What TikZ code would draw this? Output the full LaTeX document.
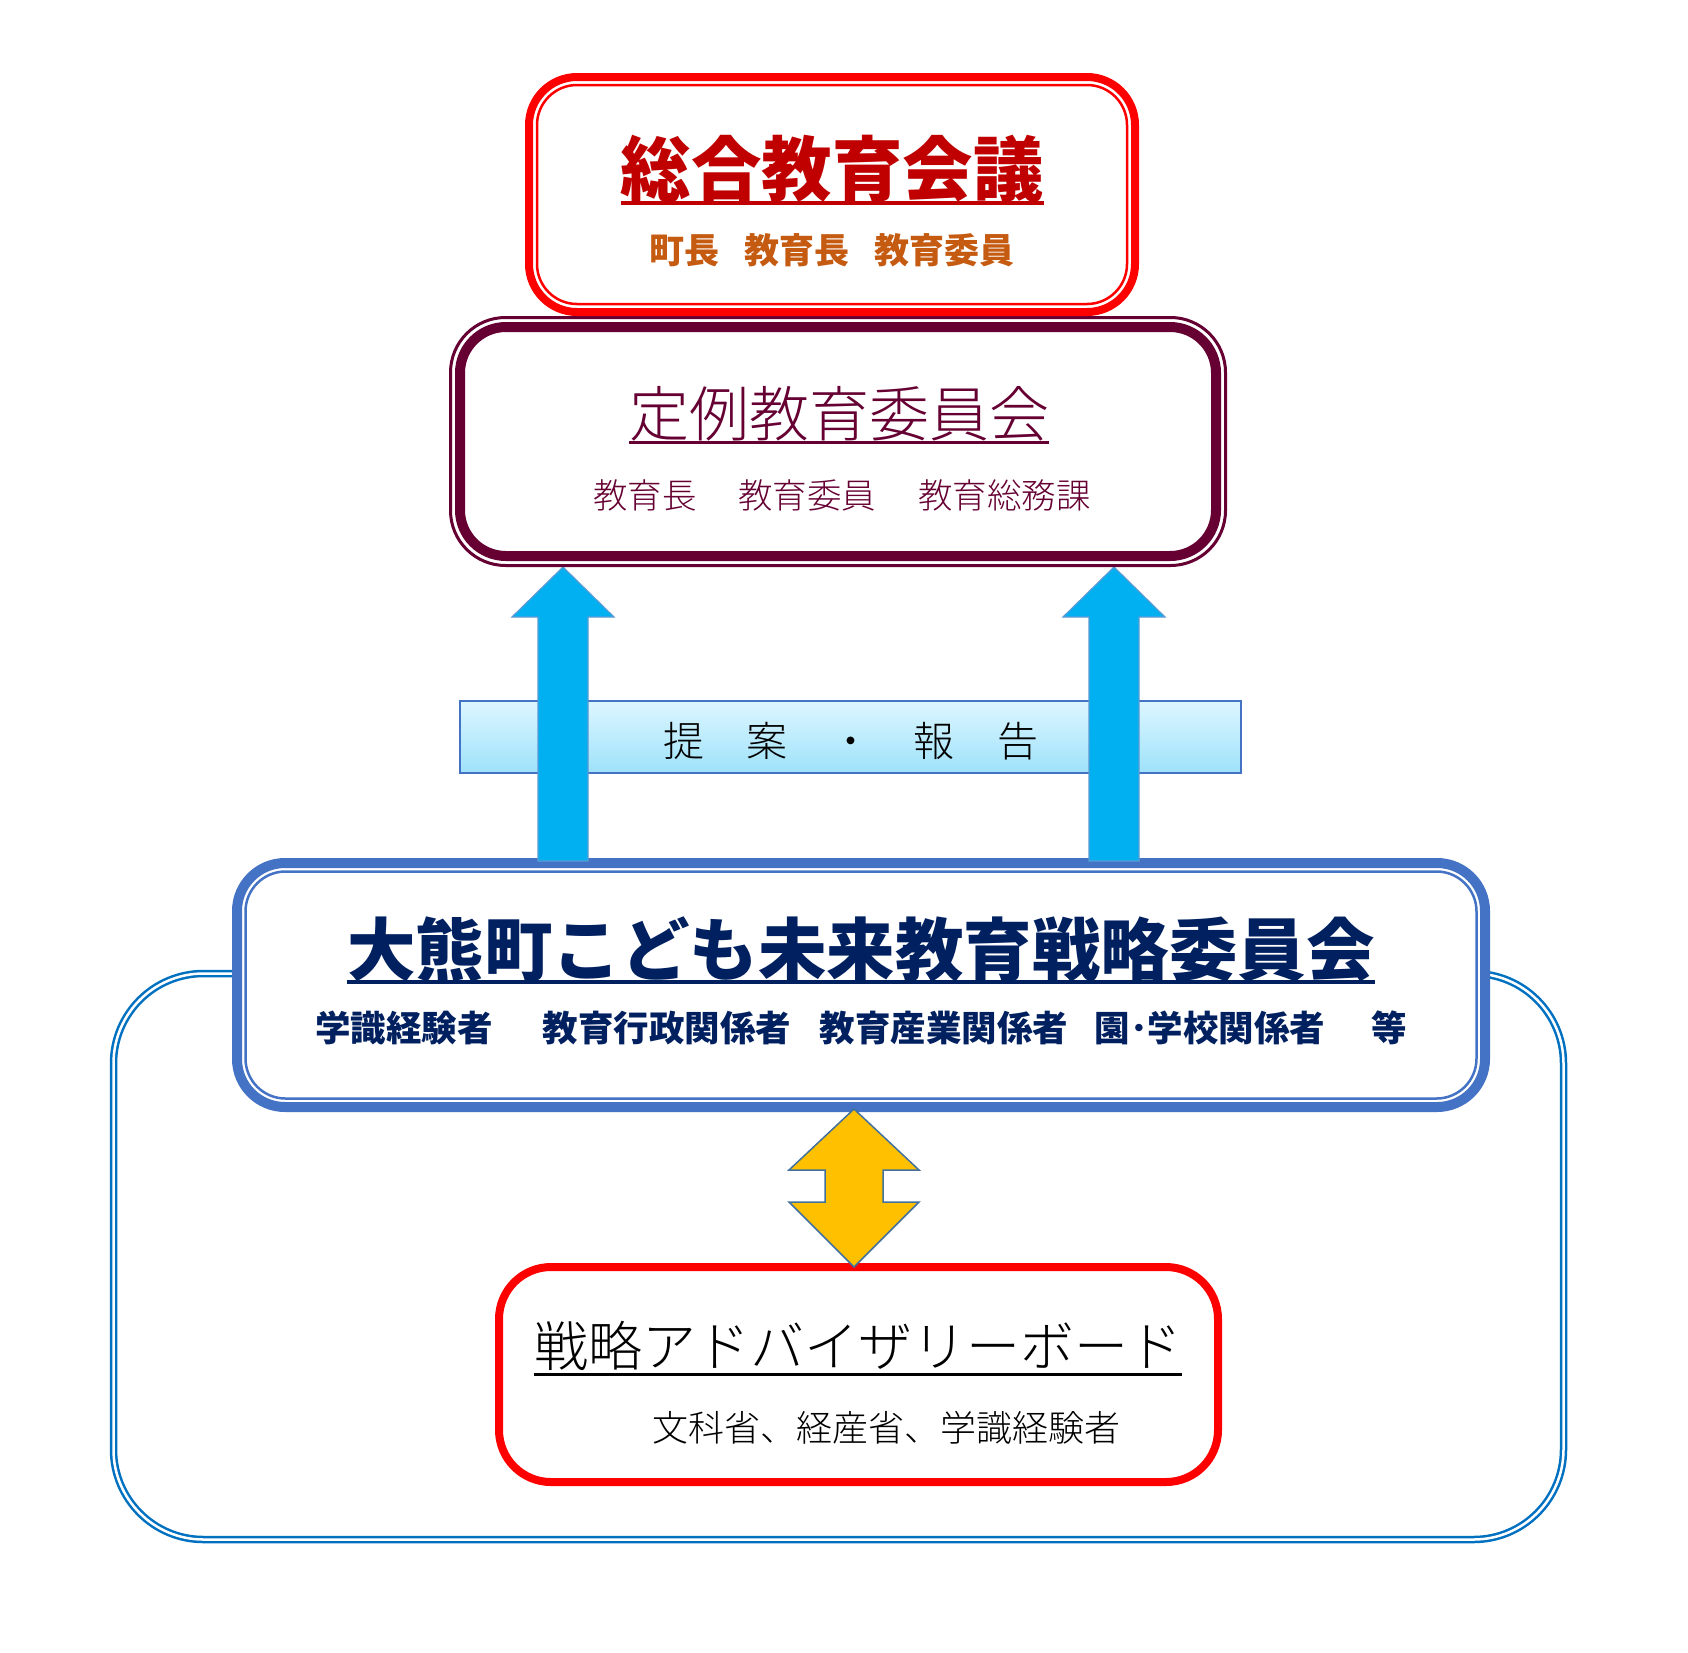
\documentclass[tikz,border=0pt]{standalone}
\usepackage{fontspec}
\setmainfont{Noto Sans CJK JP}
\IfFontExistsTF{Noto Sans CJK JP Light}{\newfontfamily\lightjp{Noto Sans CJK JP Light}}{\newfontfamily\lightjp{Noto Sans CJK JP}}
\definecolor{topred}{HTML}{FF0000}
\definecolor{titlered}{HTML}{C00000}
\definecolor{orangetxt}{HTML}{C55A11}
\definecolor{maroon}{HTML}{660033}
\definecolor{arrowblue}{HTML}{00B0F0}
\definecolor{arrowedge}{HTML}{5B9BD5}
\definecolor{bandtop}{HTML}{DDF6FF}
\definecolor{bandbot}{HTML}{9EE2FA}
\definecolor{bigblue}{HTML}{4472C4}
\definecolor{navy}{HTML}{002060}
\definecolor{frameblue}{HTML}{0070C0}
\definecolor{yellowfill}{HTML}{FFC000}
\definecolor{yellowedge}{HTML}{41719C}
\begin{document}
\begin{tikzpicture}[x=1pt,y=-1pt,
  fs/.style={font={\fontsize{#1pt}{#1pt}\selectfont}},
  fsl/.style={font={\lightjp\fontsize{#1pt}{#1pt}\selectfont}},
  fsb/.style={font={\fontsize{#1pt}{#1pt}\selectfont\bfseries}},
  boxbase/.style={rectangle, inner sep=0pt, outer sep=0pt},
  txt/.style={inner sep=0pt, outer sep=0pt, anchor=base},
  blockup/.style={fill=arrowblue, draw=arrowedge, line width=1.2pt, line join=miter},
  blockud/.style={fill=yellowfill, draw=yellowedge, line width=1.5pt, line join=miter}]
\useasboundingbox (0,0) rectangle (1688,1652);
\fill[white] (0,0) rectangle (1688,1652);

% outer frame
\node[boxbase, draw=frameblue, line width=2.5pt, double=white, double distance=2.5pt,
      rounded corners=90pt, minimum width=1450pt, minimum height=566pt] (frame) at (838.5,1256.5) {};

% strategy committee box
\node[boxbase, fill=white, draw=bigblue, line width=10pt, rounded corners=48pt,
      minimum width=1248pt, minimum height=244pt] (big) at (861,985) {};
\node[boxbase, draw=bigblue, line width=2.5pt, rounded corners=40pt,
      minimum width=1231pt, minimum height=227pt] (bigin) at (big.center) {};

% band
\node[boxbase, draw=bigblue, line width=2.5pt, top color=bandtop, bottom color=bandbot,
      minimum width=781pt, minimum height=72pt] (band) at (850.5,737) {};

% blue up arrows
\draw[blockup] (563,567) -- (614,617) -- (588,617) -- (588,861) -- (538,861) -- (538,617) -- (512,617) -- cycle;
\draw[blockup] (1114,567) -- (1165,617) -- (1139,617) -- (1139,861) -- (1089,861) -- (1089,617) -- (1063,617) -- cycle;

% regular board box
\node[boxbase, fill=white, draw=maroon, line width=3pt, rounded corners=55pt,
      minimum width=775pt, minimum height=248pt] (sec) at (838,441.5) {};
\node[boxbase, draw=maroon, line width=10pt, rounded corners=46pt,
      minimum width=756pt, minimum height=229pt] (secin) at (sec.center) {};

% top box
\node[boxbase, fill=white, draw=topred, line width=8pt, rounded corners=48pt,
      minimum width=606pt, minimum height=235pt] (top) at (832,194.5) {};
\node[boxbase, draw=topred, line width=2.5pt, rounded corners=40pt,
      minimum width=590pt, minimum height=219pt] (topin) at (top.center) {};

% advisory board box
\node[boxbase, fill=white, draw=topred, line width=8pt, rounded corners=52pt,
      minimum width=719pt, minimum height=215pt] (adv) at (858.5,1374.5) {};

% yellow double arrow
\draw[blockud] (854,1109) -- (919,1170) -- (883,1170) -- (883,1202) -- (919,1202) -- (854,1267)
  -- (789,1202) -- (825,1202) -- (825,1170) -- (789,1170) -- cycle;

% texts: top box
\node[txt, fsb=70.5, text=titlered] (t1) at (832,195) {総合教育会議};
\draw[titlered, line width=4pt] ([yshift=-8pt]t1.base west) -- ([yshift=-8pt]t1.base east);
\node[txt, fsb=35, text=orangetxt] (t2) at (832,263) {町長\hspace{25pt}教育長\hspace{25pt}教育委員};

% texts: second box
\node[txt, fsl=60, text=maroon] (t3) at (839,436) {定例教育委員会};
\draw[maroon, line width=3pt] ([yshift=-6pt]t3.base west) -- ([yshift=-6pt]t3.base east);
\node[txt, fsl=34.5, text=maroon] (t4) at (842,508) {教育長\hspace{42pt}教育委員\hspace{42pt}教育総務課};

% band text
\node[txt, fsl=41, text=black] (bt) at (851,756.5) {提\hspace{42.5pt}案\hspace{42.5pt}・\hspace{42.5pt}報\hspace{42.5pt}告};

% texts: big box
\node[txt, fsb=68.5, text=navy] (t5) at (861,975) {大熊町こども未来教育戦略委員会};
\draw[navy, line width=4pt] ([yshift=-7pt]t5.base west) -- ([yshift=-7pt]t5.base east);
\node[txt, fsb=35.5, text=navy] (s1) at (404,1041.5) {学識経験者};
\node[txt, fsb=35.5, text=navy] (s2) at (667,1041.5) {教育行政関係者};
\node[txt, fsb=35.5, text=navy] (s3) at (944,1041.5) {教育産業関係者};
\node[txt, fsb=35.5, text=navy] (s4) at (1210,1041.5) {園･学校関係者};
\node[txt, fsb=35.5, text=navy] (s5) at (1389,1041.5) {等};

% texts: advisory board
\node[txt, fsl=54, text=black] (t6) at (858,1366.5) {戦略アドバイザリーボード};
\draw[black, line width=3pt] ([yshift=-7.5pt]t6.base west) -- ([yshift=-7.5pt]t6.base east);
\node[txt, fsl=36, text=black] (t7) at (886,1441.5) {文科省、経産省、学識経験者};
\end{tikzpicture}
\end{document}
